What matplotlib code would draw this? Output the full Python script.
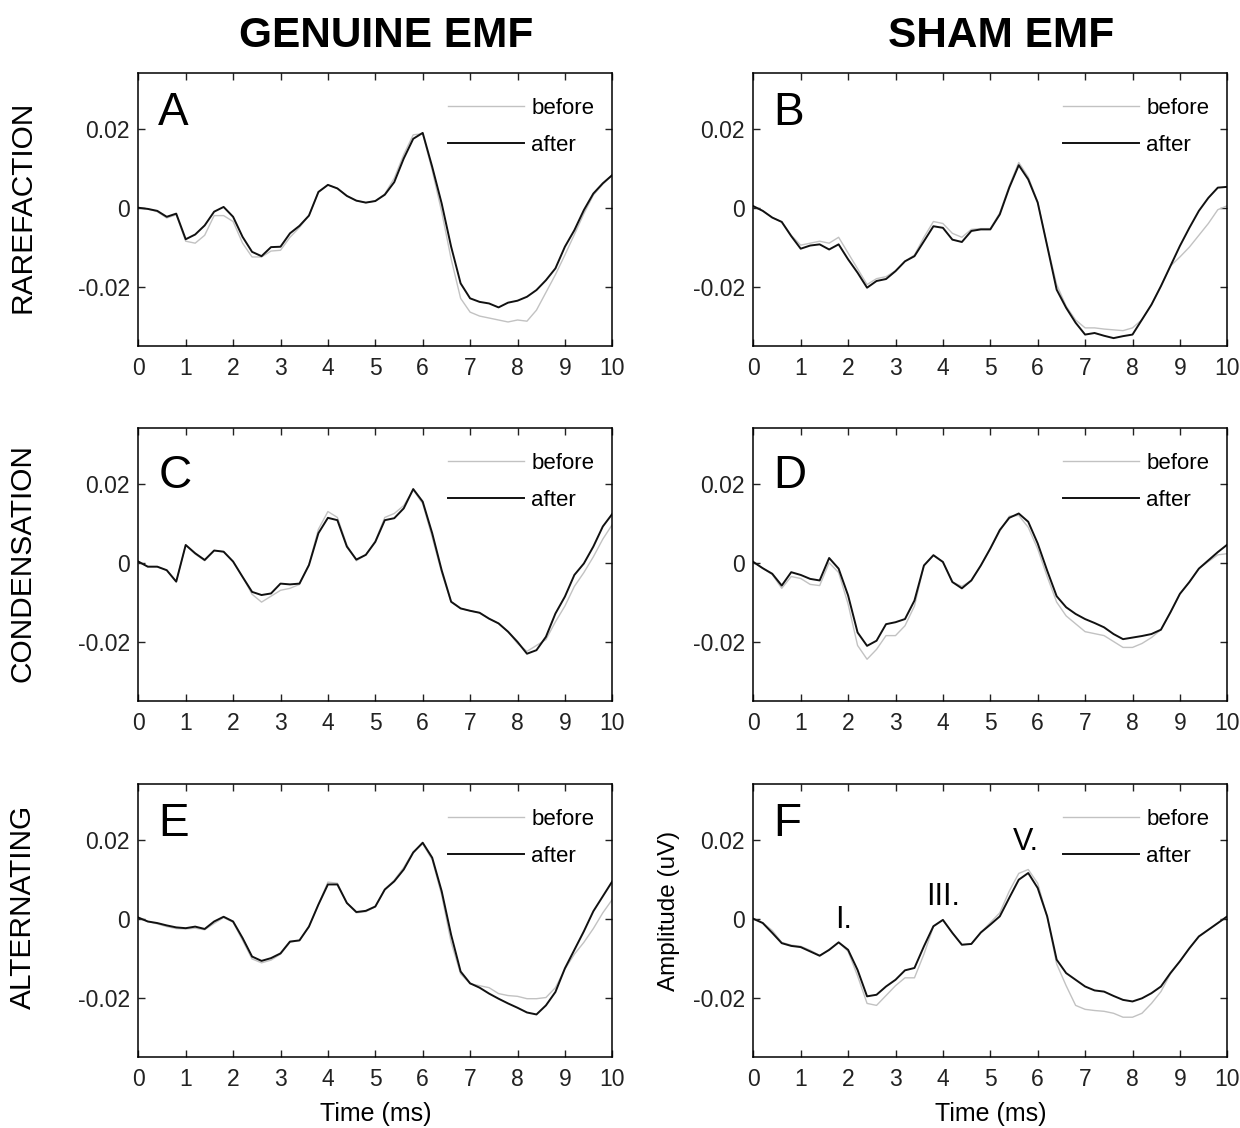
import numpy as np
import matplotlib
matplotlib.use("Agg")
import matplotlib.pyplot as plt

plt.rcParams['font.family'] = ['Liberation Sans', 'DejaVu Sans']

# time axis (ms) shared by all traces
time_ms = [0.0, 0.2, 0.4, 0.6, 0.8, 1.0, 1.2, 1.4, 1.6, 1.8,
           2.0, 2.2, 2.4, 2.6, 2.8, 3.0, 3.2, 3.4, 3.6, 3.8,
           4.0, 4.2, 4.4, 4.6, 4.8, 5.0, 5.2, 5.4, 5.6, 5.8,
           6.0, 6.2, 6.4, 6.6, 6.8, 7.0, 7.2, 7.4, 7.6, 7.8,
           8.0, 8.2, 8.4, 8.6, 8.8, 9.0, 9.2, 9.4, 9.6, 9.8, 10.0]

a_before = [0, -0.3, -1.0, -2.6, -1.8, -8.5, -9.0, -7.0, -2.0, -2.0,
            -3.5, -9.0, -12.5, -12.5, -11.0, -10.8, -7.5, -5.0, -2.0, 4.0,
            5.8, 4.9, 3.0, 1.8, 1.3, 1.7, 3.5, 7.5, 13.5, 18.5,
            18.8, 9.5, -1.0, -13.0, -23.0, -26.5, -27.5, -28.0, -28.5, -29.0,
            -28.5, -28.8, -26.0, -21.5, -17.0, -12.0, -6.8, -1.5, 3.2, 6.0, 8.3]
a_after = [0, -0.3, -0.8, -2.3, -1.5, -8.0, -6.8, -4.5, -1.0, 0.2,
           -2.3, -7.4, -11.2, -12.3, -10.0, -9.9, -6.5, -4.6, -2.0, 4.0,
           5.8, 4.9, 3.0, 1.8, 1.3, 1.7, 3.3, 6.5, 12.5, 17.5,
           19.0, 10.4, 1.1, -9.9, -19.2, -23.0, -23.9, -24.3, -25.3, -24.1,
           -23.6, -22.6, -20.9, -18.4, -15.4, -9.9, -5.7, -0.6, 3.6, 6.2, 8.3]

b_before = [0.4, -0.8, -2.5, -3.6, -7.0, -9.5, -9.0, -8.5, -9.0, -7.5,
            -11.5, -15.5, -19.5, -18.0, -17.5, -16.0, -13.6, -12.0, -7.5, -3.5,
            -4.0, -6.5, -7.5, -5.5, -5.3, -5.3, -1.3, 5.5, 11.5, 7.8,
            1.5, -9.5, -19.5, -25.0, -28.5, -30.5, -30.5, -30.8, -31.0, -31.2,
            -30.5, -28.4, -24.6, -19.9, -14.8, -12.5, -10.0, -7.0, -4.0, -0.5, 0.5]
b_after = [0.4, -0.8, -2.5, -3.6, -7.2, -10.4, -9.6, -9.3, -10.6, -9.3,
           -13.1, -16.5, -20.3, -18.6, -18.1, -16.1, -13.6, -12.3, -8.5, -4.7,
           -5.1, -8.1, -8.7, -5.9, -5.5, -5.5, -1.7, 5.1, 10.8, 7.2,
           1.3, -9.7, -20.8, -25.4, -29.2, -32.2, -31.8, -32.5, -33.1, -32.6,
           -32.2, -28.4, -24.6, -19.9, -14.8, -9.7, -5.1, -0.8, 2.5, 5.1, 5.3]

c_before = [0.3, -1.0, -1.0, -1.9, -4.8, 4.5, 2.2, 0.5, 3.1, 2.8,
            0.3, -3.6, -8.0, -10.0, -8.5, -7.0, -6.5, -5.5, -0.5, 8.5,
            13.0, 11.5, 4.5, 0.5, 2.0, 5.5, 11.5, 12.5, 14.5, 18.5,
            15.0, 6.5, -2.5, -10.0, -11.6, -12.2, -12.7, -14.2, -15.4, -17.5,
            -20.5, -22.5, -21.0, -19.5, -15.0, -11.0, -6.0, -2.5, 1.5, 6.0, 9.7]
c_after = [0.3, -1.0, -1.0, -1.9, -4.8, 4.5, 2.4, 0.7, 3.1, 2.8,
           0.3, -3.6, -7.4, -8.2, -7.8, -5.3, -5.5, -5.3, -0.6, 7.5,
           11.4, 10.8, 4.1, 0.8, 2.0, 5.3, 10.8, 11.3, 13.8, 18.7,
           15.5, 7.5, -1.9, -9.9, -11.6, -12.2, -12.7, -14.2, -15.4, -17.5,
           -20.1, -23.1, -22.2, -18.8, -12.9, -8.6, -3.1, -0.2, 4.1, 9.2, 12.4]

d_before = [0.2, -1.4, -3.0, -6.5, -3.5, -4.0, -5.5, -5.8, 0.0, -2.5,
            -10.5, -21.0, -24.5, -22.0, -18.5, -18.5, -16.0, -11.0, -0.7, 2.0,
            0.2, -4.9, -6.0, -4.5, -0.7, 3.6, 8.0, 11.8, 12.0, 9.0,
            3.5, -3.5, -10.0, -13.5, -15.5, -17.5, -18.0, -18.5, -20.0, -21.5,
            -21.5, -20.5, -19.0, -17.0, -12.6, -7.9, -4.9, -1.5, 0.3, 2.0, 2.3]
d_after = [0.2, -1.4, -2.8, -5.8, -2.4, -3.1, -4.1, -4.5, 1.2, -1.5,
           -8.3, -17.7, -21.1, -19.8, -15.6, -15.1, -14.3, -9.6, -0.7, 1.9,
           0.2, -4.9, -6.5, -4.5, -0.7, 3.6, 8.3, 11.4, 12.5, 10.4,
           4.9, -2.0, -8.5, -11.3, -13.0, -14.3, -15.3, -16.4, -18.1, -19.4,
           -19.0, -18.6, -18.1, -17.0, -12.6, -7.9, -4.9, -1.5, 0.6, 2.7, 4.6]

e_before = [0.3, -0.7, -1.3, -2.0, -2.5, -2.6, -2.4, -2.8, -1.2, 0.3,
            -0.9, -5.5, -10.2, -11.2, -10.5, -9.0, -6.0, -5.5, -2.0, 3.6,
            9.3, 9.0, 4.0, 1.5, 1.8, 3.0, 7.5, 9.8, 13.0, 17.0,
            19.0, 15.0, 6.0, -6.0, -14.0, -16.5, -17.0, -17.5, -19.0, -19.5,
            -19.7, -20.3, -20.3, -20.0, -17.5, -12.8, -9.0, -6.0, -2.5, 1.5, 4.9]
e_after = [0.3, -0.7, -1.1, -1.7, -2.2, -2.4, -2.0, -2.6, -0.7, 0.5,
           -0.7, -4.9, -9.6, -10.7, -10.0, -8.8, -5.8, -5.5, -2.0, 3.6,
           8.7, 8.7, 4.0, 1.7, 2.0, 3.1, 7.4, 9.5, 12.5, 16.8,
           19.3, 15.5, 7.0, -4.1, -13.4, -16.4, -17.5, -19.0, -20.3, -21.5,
           -22.6, -23.8, -24.3, -22.0, -18.6, -12.6, -7.9, -3.2, 1.9, 5.7, 9.5]

f_before = [0.0, -1.0, -3.0, -6.0, -6.7, -7.0, -8.0, -9.3, -8.0, -6.0,
            -8.3, -14.5, -21.5, -22.0, -19.5, -17.0, -15.0, -15.0, -9.0, -2.0,
            -0.3, -3.6, -6.6, -6.4, -3.5, -1.0, 1.5, 7.0, 11.5, 12.5,
            9.0, 0.5, -11.5, -17.0, -22.0, -23.0, -23.3, -23.5, -24.0, -25.0,
            -25.0, -24.0, -21.5, -18.5, -14.0, -10.8, -7.5, -4.5, -2.8, -1.1, 0.6]
f_after = [0.0, -1.1, -3.6, -6.2, -6.9, -7.2, -8.3, -9.4, -7.9, -6.0,
           -7.9, -13.0, -19.7, -19.3, -17.2, -15.5, -13.1, -12.5, -7.0, -1.9,
           -0.3, -3.6, -6.6, -6.4, -3.5, -1.5, 0.6, 5.3, 9.9, 11.6,
           7.8, 0.6, -10.4, -13.8, -15.5, -17.2, -18.2, -18.5, -19.6, -20.6,
           -21.0, -20.2, -18.9, -17.2, -13.8, -10.8, -7.5, -4.5, -2.8, -1.1, 0.6]

panel_letters = ["A", "B", "C", "D", "E", "F"]
before_all = [a_before, b_before, c_before, d_before, e_before, f_before]
after_all = [a_after, b_after, c_after, d_after, e_after, f_after]
col_titles = ["GENUINE EMF", "SHAM EMF"]
row_titles = ["RAREFACTION", "CONDENSATION", "ALTERNATING"]
x_ticks = [0, 1, 2, 3, 4, 5, 6, 7, 8, 9, 10]
y_ticks = [-0.02, 0, 0.02]
y_tick_labels = ["-0.02", "0", "0.02"]
peak_labels = ["I.", "III.", "V."]
peak_x = [1.9, 4.0, 5.76]
peak_y = [-0.0024, 0.0035, 0.0174]

W, H = 1240, 1128
fig = plt.figure(figsize=(W / 100, H / 100), dpi=100)

col_left = [138.3, 753.3]
ax_w = 474.0
row_top = [73, 428, 784]
ax_h = 273.0
letter_y = [0.81, 0.78, 0.81]

axes = []
for i in range(6):
    r, c = divmod(i, 2)
    ax = fig.add_axes([col_left[c] / W, 1 - (row_top[r] + ax_h) / H, ax_w / W, ax_h / H])
    t = np.array(time_ms)
    ax.plot(t, np.array(before_all[i]) / 1000, color="#c2c2c2", lw=1.0,
            solid_joinstyle="round", label="before")
    ax.plot(t, np.array(after_all[i]) / 1000, color="#111111", lw=1.4,
            solid_joinstyle="round", label="after")
    ax.set_xlim(0, 10)
    ax.set_ylim(-0.0351, 0.0342)
    ax.set_xticks(x_ticks)
    ax.set_xticklabels([str(v) for v in x_ticks])
    ax.set_yticks(y_ticks)
    ax.set_yticklabels(y_tick_labels)
    ax.tick_params(direction="in", length=5, width=1, top=True, right=True,
                   labelsize=16.5, colors="#222222")
    ax.tick_params(axis="x", pad=8)
    ax.tick_params(axis="y", pad=6)
    for s in ax.spines.values():
        s.set_linewidth(1.1)
    ax.text(0.042, letter_y[r], panel_letters[i], transform=ax.transAxes,
            fontsize=33, ha="left", va="baseline")
    ax.legend(loc="upper right", bbox_to_anchor=(0.962, 0.908), frameon=False,
              fontsize=16, handlelength=3.4, handletextpad=0.35,
              labelspacing=0.7, borderpad=0, borderaxespad=0)
    axes.append(ax)

for ax in axes[4:]:
    ax.set_xlabel("Time (ms)", fontsize=18)
    ax.xaxis.set_label_coords(0.5, -0.165)

axf = axes[5]
axf.set_ylabel("Amplitude (uV)", fontsize=17.5)
axf.yaxis.set_label_coords(-0.155, 0.535)
for lab, px, py in zip(peak_labels, peak_x, peak_y):
    axf.text(px, py, lab, fontsize=22, ha="center", va="baseline")

# column headers
for c, title in enumerate(col_titles):
    xc = (col_left[c] + ax_w / 2 + 11) / W
    fig.text(xc, 1 - 47 / H, title, fontsize=30.5, fontweight="bold",
             ha="center", va="baseline")

# row headers
row_centers = [207, 563, 907]
for r, title in enumerate(row_titles):
    fig.text(23 / W, 1 - row_centers[r] / H, title, fontsize=21.5,
             rotation=90, ha="center", va="center")

fig.savefig("out.png", dpi=100)
